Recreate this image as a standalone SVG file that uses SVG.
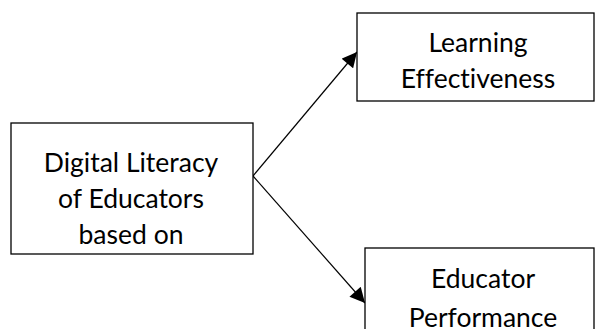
<svg xmlns="http://www.w3.org/2000/svg" width="595" height="329" viewBox="0 0 595 329">
  <style>
    .box { fill: #ffffff; stroke: #000000; stroke-width: 1.3; }
    .label { font-family: Lato, "Open Sans", sans-serif; font-size: 26.5px; fill: #000000; text-anchor: middle; font-variant-ligatures: none; }
    .edge { stroke: #000000; stroke-width: 1.2; fill: none; marker-end: url(#arrow); }
  </style>
  <defs>
    <marker id="arrow" viewBox="0 0 10 10" refX="10" refY="5" markerWidth="16" markerHeight="15" markerUnits="userSpaceOnUse" orient="auto">
      <path d="M0,0 L10,5 L0,10 Z" fill="#000000"/>
    </marker>
  </defs>
  <rect width="595" height="329" fill="#ffffff"/>

  <g id="connectors">
    <path class="edge" d="M253,176 L357,52"/>
    <path class="edge" d="M253,176 L365,303"/>
  </g>

  <g id="digital-literacy">
    <rect class="box" x="11" y="123" width="242" height="131"/>
    <text class="label" x="131" y="172">Digital Literacy</text>
    <text class="label" x="131" y="208">of Educators</text>
    <text class="label" x="131" y="244">based on</text>
  </g>

  <g id="learning-effectiveness">
    <rect class="box" x="357" y="13" width="237" height="88"/>
    <text class="label" x="478" y="52">Learning</text>
    <text class="label" x="478" y="88">Effectiveness</text>
  </g>

  <g id="educator-performance">
    <rect class="box" x="365" y="248" width="229" height="100"/>
    <text class="label" x="483" y="288">Educator</text>
    <text class="label" x="483" y="327">Performance</text>
  </g>
</svg>
